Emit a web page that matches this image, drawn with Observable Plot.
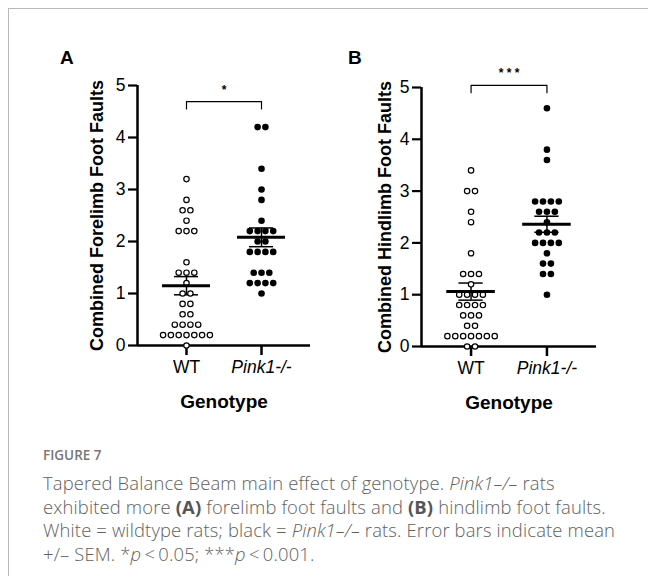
<!DOCTYPE html>
<html><head><meta charset="utf-8">
<script src="https://cdn.jsdelivr.net/npm/d3@7"></script>
<script src="https://cdn.jsdelivr.net/npm/@observablehq/plot@0.6"></script>
<style>
body{margin:0;background:#fff;}
#wrap{position:relative;width:648px;height:576px;overflow:hidden;font-family:"Liberation Sans",Arial,sans-serif;}
#frame{position:absolute;left:8px;top:8px;width:700px;height:700px;border-top:1.5px solid #b8b8b8;border-left:1.5px solid #b8b8b8;}
.panel{position:absolute;top:0;}
.plabel{position:absolute;font:bold 19px "Liberation Sans",Arial,sans-serif;color:#000;}
#fig{position:absolute;left:43px;top:446px;font-family:"Open Sans",sans-serif;font-size:13.5px;font-weight:600;color:#777;}
#cap{position:absolute;left:43px;top:471px;font-family:"Open Sans",sans-serif;font-size:18.4px;font-weight:300;line-height:23.7px;color:#616161;white-space:nowrap;letter-spacing:0.15px;}
#cap b{font-weight:700;color:#555;}
</style>
</head><body>
<div id="wrap">
  <div id="frame"></div>
  <div id="pA" class="panel" style="left:0px"></div>
  <div id="pB" class="panel" style="left:324px"></div>
  <div class="plabel" style="left:60px;top:47px">A</div>
  <div class="plabel" style="left:348px;top:47px">B</div>
  <div id="fig">FIGURE 7</div>
  <div id="cap">Tapered Balance Beam main effect of genotype. <i>Pink1–/–</i> rats<br>exhibited more <b>(A)</b> forelimb foot faults and <b>(B)</b> hindlimb foot faults.<br>White = wildtype rats; black = <i>Pink1–/–</i> rats. Error bars indicate mean<br>+/– SEM. *<i>p</i>&thinsp;&lt;&thinsp;0.05; ***<i>p</i>&thinsp;&lt;&thinsp;0.001.</div>
</div>
<script>
// ---- data ----
const genotypes = ["WT", "Pink1-/-"];
const yTicks = [0, 1, 2, 3, 4, 5];
const forelimbWT = [3.2, 2.8, 2.6, 2.6, 2.4, 2.2, 2.2, 2.2, 1.6, 1.4, 1.4, 1.4, 1.2, 1.0, 1.0, 0.8, 0.8, 0.6, 0.6, 0.4, 0.4, 0.4, 0.4, 0.2, 0.2, 0.2, 0.2, 0.2, 0.2, 0.2, 0];
const forelimbPink = [4.2, 4.2, 3.4, 3.0, 2.8, 2.4, 2.2, 2.2, 2.2, 2.2, 2.0, 2.0, 1.8, 1.8, 1.8, 1.8, 1.4, 1.4, 1.4, 1.2, 1.2, 1.2, 1.2, 1.0];
const hindlimbWT = [3.4, 3.0, 3.0, 2.6, 2.4, 1.8, 1.4, 1.4, 1.4, 1.2, 1.0, 1.0, 1.0, 1.0, 0.8, 0.8, 0.8, 0.8, 0.6, 0.6, 0.6, 0.4, 0.4, 0.2, 0.2, 0.2, 0.2, 0.2, 0.2, 0.2, 0, 0];
const hindlimbPink = [4.6, 3.8, 3.6, 2.8, 2.8, 2.8, 2.8, 2.6, 2.6, 2.6, 2.4, 2.2, 2.2, 2.2, 2.0, 2.0, 2.0, 2.0, 1.8, 1.6, 1.6, 1.4, 1.4, 1.0];
const forelimbMean = [1.15, 2.08];
const forelimbSEM = [0.175, 0.18];
const hindlimbMean = [1.06, 2.36];
const hindlimbSEM = [0.165, 0.155];
const yLabels = ["Combined Forelimb Foot Faults", "Combined Hindlimb Foot Faults"];
const sigStars = ["*", "* * *"];
const bracketY = [4.69, 5.04];
const starY = [4.92, 5.27];

// ---- layout constants ----
const xDomain = [-0.653, 1.653];
const dotStep = 0.104;   // horizontal spacing of tied values (x units)
const meanHalf = 0.32, semHalf = 0.16, bracketDrop = 0.14;

function layoutPoints(groups) {
  const pts = [];
  groups.forEach((arr, gi) => {
    const counts = d3.rollup(arr, v => v.length, d => d);
    const seen = new Map();
    arr.forEach(v => {
      const n = counts.get(v), k = seen.get(v) || 0;
      seen.set(v, k + 1);
      pts.push({g: gi, x: gi + (k - (n - 1) / 2) * dotStep, y: v});
    });
  });
  return pts;
}

function panel(groups, means, sems, idx, m) {
  const pts = layoutPoints(groups);
  const stats = means.map((mu, i) => ({i, mu, lo: mu - sems[i], hi: mu + sems[i]}));
  const by = bracketY[idx];
  const bracket = [{x: 0, y: by - bracketDrop}, {x: 0, y: by}, {x: 1, y: by}, {x: 1, y: by - bracketDrop}];
  const svg = Plot.plot({
    width: 324, height: 420,
    marginLeft: m.ml, marginRight: m.mr, marginTop: m.mt, marginBottom: m.mb,
    x: {type: "linear", domain: xDomain, axis: null},
    y: {domain: [0, 5], axis: null},
    style: {fontFamily: "'Liberation Sans', Arial, sans-serif", fontSize: "16px", color: "#000", background: "transparent", overflow: "visible"},
    marks: [
      Plot.axisY({ticks: yTicks, tickFormat: d3.format("d"), tickSize: 9, tickPadding: 3, strokeWidth: 2.2, fontSize: 17.5, label: null}),
      Plot.axisX({ticks: [0, 1], tickFormat: i => genotypes[i], tickSize: 10, tickPadding: 5, strokeWidth: 2.5, fontSize: 17.5, label: null}),
      Plot.ruleX([xDomain[0]], {strokeWidth: 2.5}),
      Plot.ruleY([0], {strokeWidth: 2.5}),
      Plot.ruleY(stats, {y: "lo", x1: d => d.i - semHalf, x2: d => d.i + semHalf, strokeWidth: 1.5}),
      Plot.ruleY(stats, {y: "hi", x1: d => d.i - semHalf, x2: d => d.i + semHalf, strokeWidth: 1.5}),
      Plot.ruleX(stats, {x: "i", y1: "lo", y2: "hi", strokeWidth: 1.5}),
      Plot.dot(pts.filter(d => d.g === 0), {x: "x", y: "y", r: 2.7, fill: "white", stroke: "black", strokeWidth: 1.2}),
      Plot.dot(pts.filter(d => d.g === 1), {x: "x", y: "y", r: 3.3, fill: "black", stroke: "none"}),
      Plot.ruleY(stats, {y: "mu", x1: d => d.i - meanHalf, x2: d => d.i + meanHalf, strokeWidth: 3}),
      Plot.line(bracket, {x: "x", y: "y", stroke: "black", strokeWidth: 1.2, curve: "linear"}),
      Plot.text([sigStars[idx]], {x: 0.5, y: starY[idx], fontSize: 12, fontWeight: "bold"}),
      Plot.text([yLabels[idx]], {frameAnchor: "left", textAnchor: "middle", lineAnchor: "middle", rotate: -90, dx: -m.lab, fontWeight: "bold", fontSize: 18}),
      Plot.text(["Genotype"], {frameAnchor: "bottom", textAnchor: "middle", lineAnchor: "middle", dy: 56, fontWeight: "bold", fontSize: 19})
    ]
  });
  d3.select(svg).selectAll('g[aria-label="x-axis tick label"] text')
    .filter((d, i) => i === 1).attr("font-style", "italic");
  return svg;
}

document.getElementById("pA").append(panel([forelimbWT, forelimbPink], forelimbMean, forelimbSEM, 0, {ml: 137, mr: 14, mt: 85, mb: 75, lab: 40}));
document.getElementById("pB").append(panel([hindlimbWT, hindlimbPink], hindlimbMean, hindlimbSEM, 1, {ml: 97, mr: 52, mt: 87, mb: 74, lab: 36}));
</script>
</body></html>
